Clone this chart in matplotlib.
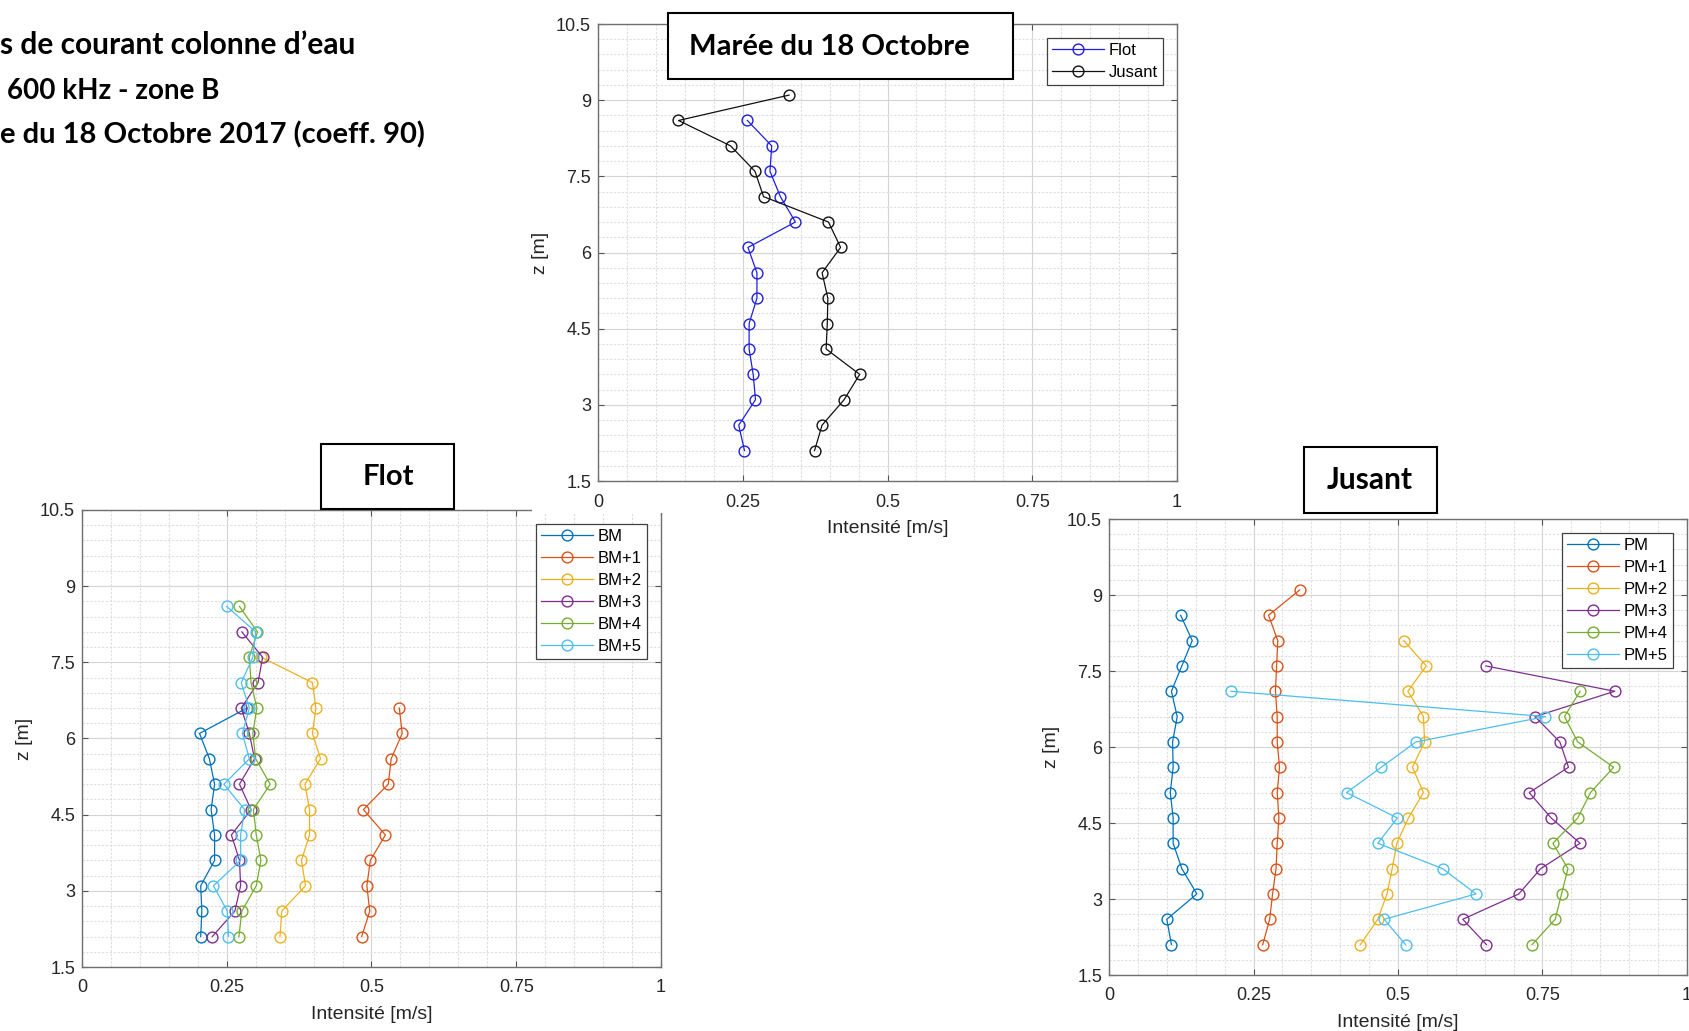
import matplotlib
matplotlib.use("Agg")
import matplotlib.pyplot as plt
from matplotlib.patches import Rectangle
from matplotlib.ticker import MultipleLocator, FormatStrFormatter

plt.rcParams['font.family'] = ['Liberation Sans', 'DejaVu Sans']

W, H = 1690, 1031

# depth of each measurement cell (m)
z_levels = [2.1, 2.6, 3.1, 3.6, 4.1, 4.6, 5.1, 5.6, 6.1, 6.6, 7.1, 7.6, 8.1, 8.6, 9.1]

# mean profiles, tide of 18 October
maree_labels = ["Flot", "Jusant"]
maree_flot = [0.253, 0.243, 0.272, 0.268, 0.261, 0.261, 0.2745, 0.2745, 0.259, 0.341,
              0.315, 0.297, 0.300, 0.258]
maree_jusant = [0.374, 0.387, 0.425, 0.452, 0.394, 0.396, 0.397, 0.387, 0.419, 0.398,
                0.286, 0.271, 0.229, 0.139, 0.330]

# flood, hours after low water
flot_labels = ["BM", "BM+1", "BM+2", "BM+3", "BM+4", "BM+5"]
bm = [0.205, 0.207, 0.205, 0.229, 0.229, 0.223, 0.229, 0.220, 0.203, 0.285]
bm1 = [0.483, 0.497, 0.492, 0.498, 0.524, 0.486, 0.529, 0.534, 0.553, 0.548]
bm2 = [0.342, 0.345, 0.386, 0.379, 0.393, 0.393, 0.385, 0.412, 0.398, 0.404, 0.398, 0.310]
bm3 = [0.225, 0.264, 0.274, 0.272, 0.258, 0.292, 0.272, 0.298, 0.289, 0.275, 0.304, 0.312,
       0.276]
bm4 = [0.271, 0.276, 0.301, 0.309, 0.301, 0.296, 0.325, 0.300, 0.295, 0.302, 0.292, 0.289,
       0.303, 0.272]
bm5 = [0.253, 0.251, 0.227, 0.274, 0.274, 0.281, 0.245, 0.289, 0.277, 0.289, 0.275, 0.295,
       0.300, 0.250]

# ebb, hours after high water
jusant_labels = ["PM", "PM+1", "PM+2", "PM+3", "PM+4", "PM+5"]
pm = [0.108, 0.100, 0.152, 0.126, 0.111, 0.111, 0.106, 0.111, 0.110, 0.118, 0.108, 0.126,
      0.144, 0.124]
pm1 = [0.266, 0.278, 0.283, 0.289, 0.291, 0.294, 0.291, 0.295, 0.291, 0.291, 0.288, 0.290,
       0.292, 0.276, 0.330]
pm2 = [0.435, 0.465, 0.481, 0.490, 0.498, 0.518, 0.544, 0.525, 0.546, 0.544, 0.517, 0.549,
       0.510]
pm3 = [0.653, 0.612, 0.709, 0.747, 0.815, 0.765, 0.727, 0.795, 0.780, 0.737, 0.875, 0.652]
pm4 = [0.732, 0.772, 0.783, 0.794, 0.768, 0.811, 0.833, 0.873, 0.811, 0.788, 0.815]
pm5 = [0.513, 0.476, 0.635, 0.577, 0.465, 0.499, 0.411, 0.471, 0.531, 0.755, 0.211]

matlab_colors = ["#0072BD", "#D95319", "#EDB120", "#7E2F8E", "#77AC30", "#4DBEEE"]

title_font = ['Lato', 'DejaVu Sans']


def fig_rect(x0, y0, x1, y1):
    # pixel box (top-left origin) -> figure fraction [left, bottom, width, height]
    return [x0 / W, 1 - y1 / H, (x1 - x0) / W, (y1 - y0) / H]


def style_axes(ax):
    ax.set_xlim(0, 1)
    ax.set_ylim(1.5, 10.5)
    ax.xaxis.set_major_locator(MultipleLocator(0.25))
    ax.xaxis.set_minor_locator(MultipleLocator(0.05))
    ax.yaxis.set_major_locator(MultipleLocator(1.5))
    ax.yaxis.set_minor_locator(MultipleLocator(0.3))
    ax.xaxis.set_major_formatter(FormatStrFormatter('%g'))
    ax.yaxis.set_major_formatter(FormatStrFormatter('%g'))
    ax.grid(which='major', color='#d4d4d4', lw=0.8)
    ax.grid(which='minor', color='#dedede', lw=0.8, ls=(0, (2, 1.5)))
    ax.set_axisbelow(True)
    ax.tick_params(which='major', direction='in', top=True, right=True, length=4,
                   width=0.8, color='#555555', labelsize=13, labelcolor='#262626', pad=5)
    ax.tick_params(axis='x', which='major', pad=9)
    ax.tick_params(which='minor', length=0)
    for s in ax.spines.values():
        s.set_color('#707070')
        s.set_linewidth(1.0)
    ax.set_xlabel('Intensité [m/s]', fontsize=14, color='#262626', labelpad=7)
    ax.set_ylabel('z [m]', fontsize=14, color='#262626', labelpad=5)


def add_legend(ax):
    leg = ax.legend(loc='upper right', fontsize=12, frameon=True, fancybox=False,
                    edgecolor='#404040', framealpha=1, borderaxespad=0.85,
                    handlelength=3.1, handletextpad=0.3, labelspacing=0.42,
                    borderpad=0.3)
    leg.get_frame().set_linewidth(0.9)


def plot_profiles(ax, series, labels, colors):
    for vals, lab, col in zip(series, labels, colors):
        ax.plot(vals, z_levels[:len(vals)], '-o', color=col, lw=0.9, ms=7.8,
                mfc='none', mew=1.0, label=lab)


fig = plt.figure(figsize=(W / 100, H / 100), dpi=100)

# bottom-left : flood
ax_flot = fig.add_axes(fig_rect(82, 510, 661, 967), zorder=0)
plot_profiles(ax_flot, [bm, bm1, bm2, bm3, bm4, bm5], flot_labels, matlab_colors)
style_axes(ax_flot)
add_legend(ax_flot)

# bottom-right : ebb
ax_jus = fig.add_axes(fig_rect(1109, 519, 1687, 975), zorder=0)
plot_profiles(ax_jus, [pm, pm1, pm2, pm3, pm4, pm5], jusant_labels, matlab_colors)
style_axes(ax_jus)
add_legend(ax_jus)

# white background of the pasted top picture hides a piece of the flood frame
fig.add_artist(Rectangle((532 / W, 1 - 513 / H), 135 / W, 20 / H,
                         transform=fig.transFigure, facecolor='white',
                         edgecolor='none', zorder=1))

# top : both tide phases
ax_top = fig.add_axes(fig_rect(598, 24, 1177, 481), zorder=2)
plot_profiles(ax_top, [maree_flot, maree_jusant], maree_labels, ['#1f1fe0', '#111111'])
style_axes(ax_top)
add_legend(ax_top)

# boxed titles
for (x0, y0, x1, y1) in [(668, 13, 1013, 79), (321, 444, 454, 509), (1304, 447, 1437, 513)]:
    r = fig_rect(x0, y0, x1, y1)
    fig.add_artist(Rectangle((r[0], r[1]), r[2], r[3], transform=fig.transFigure,
                             facecolor='white', edgecolor='black', lw=1.5, zorder=10))

fig.text(689 / W, 1 - 55 / H, "Marée du 18 Octobre", fontsize=21, fontweight='bold',
         family=title_font, ha='left', va='baseline', zorder=11)
fig.text(388 / W, 1 - 485 / H, "Flot", fontsize=21, fontweight='bold',
         family=title_font, ha='center', va='baseline', zorder=11)
fig.text(1370 / W, 1 - 489 / H, "Jusant", fontsize=21.5, fontweight='bold',
         family=title_font, ha='center', va='baseline', zorder=11)

# header text, cut at the left edge in the original page
fig.text(0, 1 - 54 / H, "s de courant colonne d’eau", fontsize=21.5, fontweight='bold',
         family=title_font, ha='left', va='baseline', zorder=11)
fig.text(7 / W, 1 - 99 / H, "600 kHz - zone B", fontsize=20, fontweight='bold',
         family=title_font, ha='left', va='baseline', zorder=11)
fig.text(0, 1 - 143 / H, "e du 18 Octobre 2017 (coeff. 90)", fontsize=21,
         fontweight='bold', family=title_font, ha='left', va='baseline', zorder=11)

fig.savefig("out.png", dpi=100, facecolor='white')
